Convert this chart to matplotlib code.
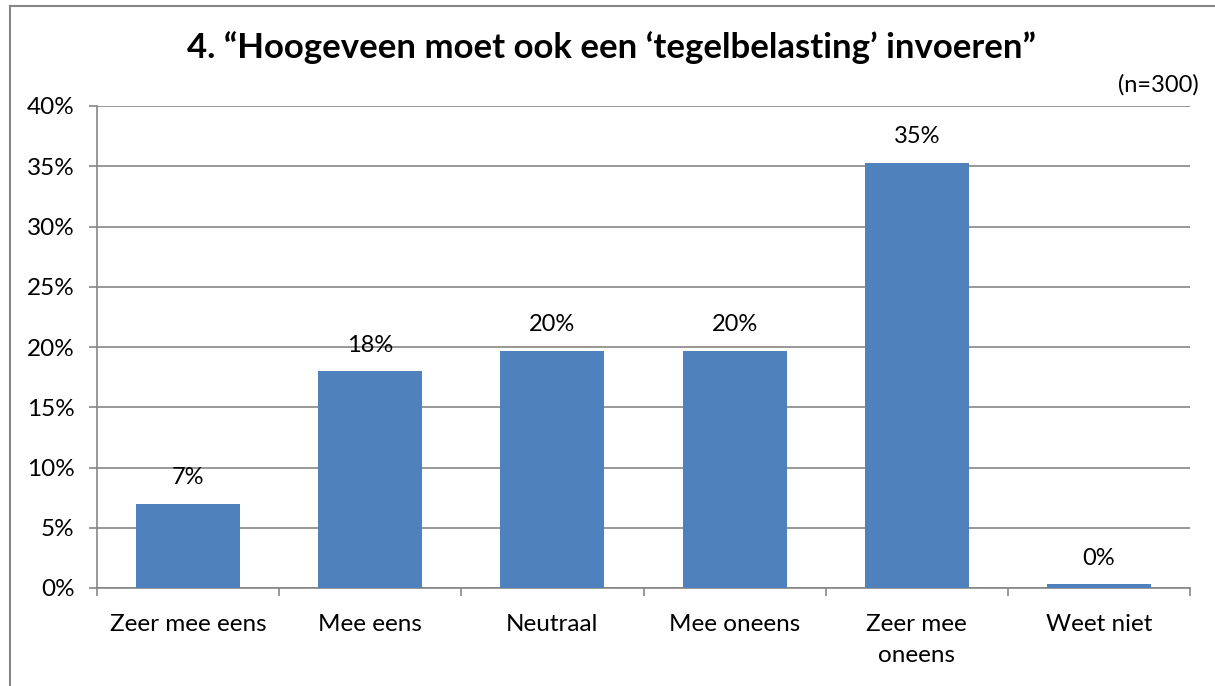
import matplotlib
matplotlib.use("Agg")
import matplotlib.pyplot as plt
from matplotlib.lines import Line2D
from matplotlib.ticker import FixedLocator, FuncFormatter

categories = ["Zeer mee eens", "Mee eens", "Neutraal", "Mee oneens", "Zeer mee\noneens", "Weet niet"]
values = [7.0, 18.0, 19.7, 19.7, 35.3, 0.3]
labels = ["7%", "18%", "20%", "20%", "35%", "0%"]
yticks = [0, 5, 10, 15, 20, 25, 30, 35, 40]

plt.rcParams['font.family'] = ['Lato', 'DejaVu Sans']

W, H = 1215, 686
fig = plt.figure(figsize=(W / 100, H / 100), dpi=100)
ax = fig.add_axes([97 / W, 1 - 588 / H, (1190 - 97) / W, (588 - 106) / H])

grey = "#868686"
x = list(range(len(categories)))
ax.bar(x, values, width=0.57, color="#4F81BD", zorder=3)
for xi, v, lab in zip(x, values, labels):
    ax.annotate(lab, (xi, v), xytext=(0, 11), textcoords="offset points",
                ha="center", va="bottom", fontsize=17, color="#000000")

ax.set_xlim(-0.5, len(categories) - 0.5)
ax.set_ylim(0, 40)
ax.yaxis.set_major_locator(FixedLocator(yticks))
ax.yaxis.set_major_formatter(FuncFormatter(lambda v, p: f"{int(v)}%"))
ax.grid(axis="y", color=grey, linewidth=1.2, zorder=0)
ax.set_axisbelow(True)

ax.set_xticks(x)
ax.set_xticklabels(categories, fontsize=17.5, linespacing=1.55)
ax.xaxis.set_minor_locator(FixedLocator([i - 0.5 for i in range(len(categories) + 1)]))
ax.tick_params(axis="x", which="major", length=0, pad=19)
ax.tick_params(axis="x", which="minor", length=6, width=1.2, color=grey, direction="out")
ax.tick_params(axis="y", which="major", length=6, width=1.2, color=grey, labelsize=17.5, pad=10)

for s in ["top", "right"]:
    ax.spines[s].set_visible(False)
for s in ["left", "bottom"]:
    ax.spines[s].set_color(grey)
    ax.spines[s].set_linewidth(1.2)

fig.text(611 / W, 1 - 48 / H, "4. \u201cHoogeveen moet ook een \u2018tegelbelasting\u2019 invoeren\u201d",
         ha="center", va="center", fontsize=25, fontweight="bold")
fig.text(1199 / W, 1 - 85 / H, "(n=300)", ha="right", va="center", fontsize=17)

fig.add_artist(Line2D([10 / W, 10 / W], [0, 1 - 6 / H], color=grey, linewidth=1.5, transform=fig.transFigure))
fig.add_artist(Line2D([10 / W, 1], [1 - 6 / H, 1 - 6 / H], color=grey, linewidth=1.5, transform=fig.transFigure))

fig.savefig("out.png", dpi=100)
